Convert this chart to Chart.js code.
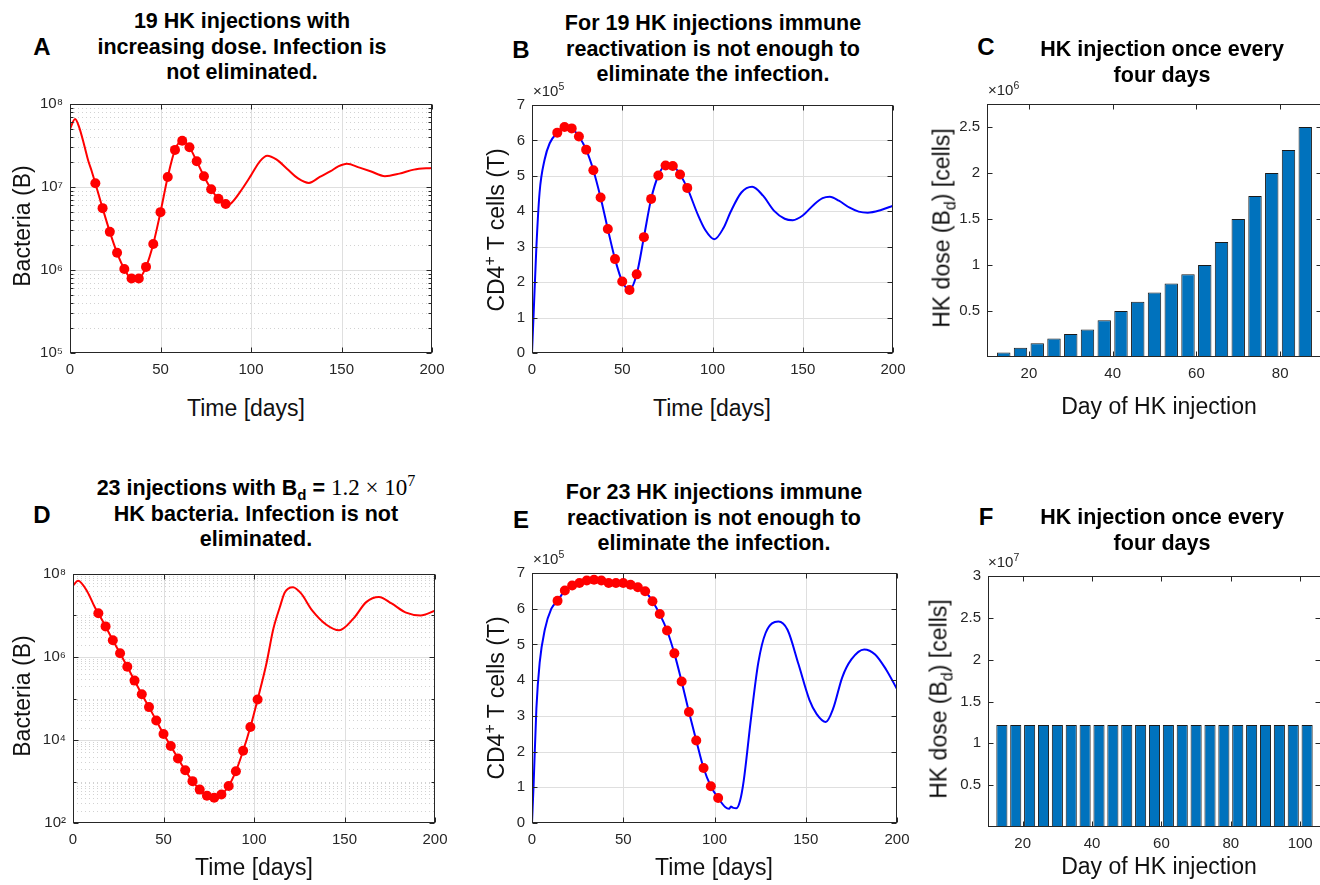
<!DOCTYPE html>
<html><head><meta charset="utf-8">
<script src="https://cdn.jsdelivr.net/npm/chart.js@4.4.0/dist/chart.umd.min.js"></script>
<style>
html,body{margin:0;padding:0;width:1320px;height:885px;overflow:hidden;background:#fff;}
body{position:relative;font-family:"Liberation Sans",Arial,Helvetica,sans-serif;}
.t{position:absolute;transform:translateX(-50%);text-align:center;font-weight:bold;font-size:21.5px;line-height:25.5px;white-space:nowrap;color:#000;}
.L{position:absolute;transform:translate(-50%,-50%);font-weight:bold;font-size:24px;color:#000;}
.xl{position:absolute;transform:translate(-50%,-50%);font-size:23px;white-space:nowrap;color:#111;}
.yl{position:absolute;transform:translate(-50%,-50%) rotate(-90deg);font-size:23px;white-space:nowrap;color:#111;}
.ex{position:absolute;font-size:15px;line-height:15px;color:#262626;white-space:nowrap;}
sup,sub{line-height:0;font-size:0.7em;}
.m{font-family:"Liberation Serif","DejaVu Serif",serif;font-weight:normal;font-size:23px;}
</style></head><body>
<script>
// ---------------- DATA ----------------
const topInjDays = [14,18,22,26,30,34,38,42,46,50,54,58,62,66,70,74,78,82,86];
const botInjDays = [14,18,22,26,30,34,38,42,46,50,54,58,62,66,70,74,78,82,86,90,94,98,102];

// Panel A : bacteria (log), curve points between injections + values at injections
const aTimeExtra = [0,2.8,5,8,10,12,88,90,95,100,105,109,114,120,126,132,138,144,148,153,160,166,174,182,190,200];
const aBactExtra = [5.0e7,6.6e7,5.3e7,3.1e7,2.1e7,1.55e7,6.2e6,6.7e6,9.4e6,1.38e7,2.05e7,2.38e7,2.15e7,1.65e7,1.27e7,1.12e7,1.32e7,1.55e7,1.76e7,1.91e7,1.71e7,1.55e7,1.35e7,1.45e7,1.62e7,1.7e7];
const aMarkers = [1.11e7,5.56e6,2.88e6,1.61e6,1.03e6,7.9e5,7.9e5,1.09e6,2.06e6,4.98e6,1.32e7,2.8e7,3.6e7,3.01e7,2.04e7,1.35e7,9.4e6,7.2e6,6.25e6];

// Panel B : CD4+ T cells (x10^5)
const bTimeExtra = [0,0.9,2.4,4.2,7,9.8,92,96,101,106,110,116,122,128,134,140,144.5,150,156,161,165,170,176,181,186,193,200];
const bCellsExtra = [0,1.1,2.96,4.53,5.46,5.92,3.89,3.47,3.21,3.52,3.98,4.53,4.69,4.44,4.02,3.79,3.75,3.88,4.18,4.37,4.41,4.3,4.1,3.99,3.96,4.03,4.16];
const bMarkers = [6.22,6.38,6.34,6.11,5.74,5.16,4.39,3.50,2.65,2.02,1.78,2.22,3.27,4.35,5.01,5.29,5.28,5.04,4.66];

// Panel C : HK dose (x10^6)
const cDose = [0.05,0.1,0.15,0.2,0.25,0.3,0.4,0.5,0.6,0.7,0.8,0.9,1.0,1.25,1.5,1.75,2.0,2.25,2.5];

// Panel D : bacteria (log)
const dTimeExtra = [0,2.8,8,12,107,110.6,114.3,117,121.5,126,132,140,147,155,162,169,176,184,192,200];
const dBactExtra = [5.3e7,6.9e7,3.7e7,1.6e7,7.4e5,4.6e6,1.6e7,3.6e7,4.8e7,3.4e7,1.35e7,6.0e6,4.4e6,8.5e6,2.1e7,2.8e7,1.95e7,1.17e7,1.0e7,1.3e7];
const dMarkers = [1.13e7,5.46e6,2.54e6,1.23e6,5.8e5,2.7e5,1.26e5,6.2e4,2.95e4,1.4e4,7.2e3,3.6e3,1.86e3,1.02e3,638,452,405,487,780,1.77e3,5.5e3,2.05e4,9.5e4];

// Panel E : CD4+ T cells (x10^5)
const eTimeExtra = [0,0.9,2.4,4.2,7,10.6,106,108,109,110,112,114,116,120,124,128,135,140,146,152,156,161,165,170,175,182,188,194,200];
const eCellsExtra = [0,1.1,3.2,4.49,5.41,6.0,0.44,0.40,0.46,0.43,0.41,0.62,1.18,2.93,4.49,5.32,5.64,5.41,4.45,3.45,3.05,2.83,3.2,4.08,4.58,4.86,4.72,4.3,3.75];
const eMarkers = [6.22,6.51,6.65,6.72,6.79,6.81,6.79,6.72,6.72,6.72,6.67,6.60,6.49,6.21,5.85,5.39,4.75,3.96,3.11,2.31,1.54,1.03,0.70];

// Panel F : HK dose (x10^7)
const fDose = [1.22,1.22,1.22,1.22,1.22,1.22,1.22,1.22,1.22,1.22,1.22,1.22,1.22,1.22,1.22,1.22,1.22,1.22,1.22,1.22,1.22,1.22,1.22];

// Ticks
const timeTicks = [0,50,100,150,200];
const timeGrid = [50,100,150];
const aLogTicks = [1e5,1e6,1e7,1e8];
const dLogTicks = [1e2,1e4,1e6,1e8];
const cellTicks = [0,1,2,3,4,5,6,7];
const cDayTicks = [20,40,60,80];
const cDoseTicks = [0.5,1,1.5,2,2.5];
const fDayTicks = [20,40,60,80,100];
const fDoseTicks = [0.5,1,1.5,2,2.5,3];

// ---------------- LAYOUT ----------------
const AREAS = {
  A:{l:70,t:100,r:432,b:353}, B:{l:532,t:101,r:893,b:353}, C:{l:987,t:100,r:1322,b:357},
  D:{l:73,t:570,r:435,b:823}, E:{l:532,t:569,r:897,b:823}, F:{l:988,t:572,r:1321,b:827}
};
const FONT = '"Liberation Sans", Arial, Helvetica, sans-serif';
Chart.defaults.font.family = FONT;
Chart.defaults.font.size = 15;
Chart.defaults.color = '#262626';

const SUP = '⁰¹²³⁴⁵⁶⁷⁸⁹';
const logLabel = v => '10' + String(Math.round(Math.log10(v))).split('').map(c => SUP[+c]).join('');
const minorLog = decades => { const o = []; decades.forEach(d => { for (let m = 2; m <= 9; m++) o.push(m * d); }); return o; };
const merge = (t1, v1, t2, v2) => t1.map((t, i) => ({x: t, y: v1[i]})).concat(t2.map((t, i) => ({x: t, y: v2[i]}))).sort((a, b) => a.x - b.x);
const pts = (t, v) => t.map((x, i) => ({x, y: v[i]}));

function boxPlugin(cfg) {
  const seg = (ctx, x1, y1, x2, y2) => { ctx.beginPath(); ctx.moveTo(x1, y1); ctx.lineTo(x2, y2); ctx.stroke(); };
  return {
    id: 'mbox',
    beforeDatasetsDraw(chart) {
      const {ctx, chartArea: a, scales: {x, y}} = chart;
      ctx.save(); ctx.lineWidth = 1;
      if (cfg.yMinor) {
        ctx.strokeStyle = '#d2d2d2'; ctx.setLineDash([1, 3]);
        cfg.yMinor.forEach(v => { const p = Math.round(y.getPixelForValue(v)) + 0.5; seg(ctx, a.left, p, a.right, p); });
      }
      ctx.setLineDash([]); ctx.strokeStyle = '#dfdfdf';
      (cfg.xGrid || []).forEach(v => { const p = Math.round(x.getPixelForValue(v)) + 0.5; seg(ctx, p, a.top, p, a.bottom); });
      (cfg.yGrid || []).forEach(v => { const p = Math.round(y.getPixelForValue(v)) + 0.5; seg(ctx, a.left, p, a.right, p); });
      ctx.restore();
    },
    afterDatasetsDraw(chart) {
      const {ctx, chartArea: a, scales: {x, y}} = chart;
      ctx.save(); ctx.lineWidth = 1; ctx.strokeStyle = '#262626';
      const L = Math.round(a.left) + 0.5, R = Math.round(a.right) - 0.5, T = Math.round(a.top) + 0.5, B = Math.round(a.bottom) - 0.5;
      ctx.strokeRect(L, T, R - L, B - T);
      (cfg.xTicks || []).forEach(v => { const p = Math.round(x.getPixelForValue(v)) + 0.5; seg(ctx, p, B, p, B - 5); seg(ctx, p, T, p, T + 5); });
      (cfg.yTicks || []).forEach(v => { const p = Math.round(y.getPixelForValue(v)) + 0.5; seg(ctx, L, p, L + 5, p); seg(ctx, R, p, R - 5, p); });
      (cfg.yMinorTicks || []).forEach(v => { const p = Math.round(y.getPixelForValue(v)) + 0.5; seg(ctx, L, p, L + 3, p); seg(ctx, R, p, R - 3, p); });
      ctx.restore();
    }
  };
}

function makeChart(area, type, datasets, xs, ys, cfg) {
  const ML = 75, MT = 12, MR = 30, MB = 40;
  const W = area.r - area.l + ML + MR, H = area.b - area.t + MT + MB;
  const c = document.createElement('canvas');
  c.width = W; c.height = H;
  c.style.cssText = `position:absolute;left:${area.l - ML}px;top:${area.t - MT}px;width:${W}px;height:${H}px;`;
  document.body.appendChild(c);
  const axis = (o, ticks, isX) => Object.assign({
    bounds: 'data', offset: false,
    grid: {display: false, drawTicks: false}, border: {display: false},
    ticks: {padding: isX ? 8 : 7, autoSkip: false, maxRotation: 0, minRotation: 0, color: '#262626', font: {size: 15}, callback: o.cb || (v => String(v))},
    afterBuildTicks: s => { s.ticks = ticks.map(v => ({value: v})); },
    afterFit: s => { if (isX) s.height = MB; else s.width = ML; }
  }, o.base);
  new Chart(c, {
    type,
    data: {datasets},
    options: {
      responsive: false, animation: false, devicePixelRatio: 1, events: [],
      layout: {padding: {left: 0, top: MT, right: MR, bottom: 0}},
      plugins: {legend: {display: false}, tooltip: {enabled: false}},
      scales: {x: axis(xs, xs.ticks, true), y: axis(ys, ys.ticks, false)}
    },
    plugins: [boxPlugin(cfg)]
  });
}

const lineDs = (data, color) => ({type: 'line', data, borderColor: color, borderWidth: 2, pointRadius: 0, cubicInterpolationMode: 'monotone', fill: false, order: 2});
const markDs = data => ({type: 'line', data, showLine: false, pointRadius: 5, pointBackgroundColor: '#ff0000', pointBorderWidth: 0, pointBorderColor: '#ff0000', order: 1});
const barDs = data => ({type: 'bar', data, backgroundColor: '#0072bd', borderColor: '#1a1a1a', borderWidth: 1, barPercentage: 0.8, categoryPercentage: 1.0});

// A
makeChart(AREAS.A, 'line',
  [lineDs(merge(aTimeExtra, aBactExtra, topInjDays, aMarkers), '#ff0000'), markDs(pts(topInjDays, aMarkers))],
  {ticks: timeTicks, base: {type: 'linear', min: 0, max: 200}},
  {ticks: aLogTicks, cb: logLabel, base: {type: 'logarithmic', min: 1e5, max: 1e8}},
  {xGrid: timeGrid, yGrid: [1e6, 1e7], yMinor: minorLog([1e5, 1e6, 1e7]), xTicks: timeTicks, yTicks: aLogTicks, yMinorTicks: minorLog([1e5, 1e6, 1e7])});
// B
makeChart(AREAS.B, 'line',
  [lineDs(merge(bTimeExtra, bCellsExtra, topInjDays, bMarkers), '#0000ff'), markDs(pts(topInjDays, bMarkers))],
  {ticks: timeTicks, base: {type: 'linear', min: 0, max: 200}},
  {ticks: cellTicks, base: {type: 'linear', min: 0, max: 7}},
  {xGrid: timeGrid, yGrid: [1, 2, 3, 4, 5, 6], xTicks: timeTicks, yTicks: cellTicks});
// C
makeChart(AREAS.C, 'bar',
  [barDs(pts(topInjDays, cDose))],
  {ticks: cDayTicks, base: {type: 'linear', min: 10, max: 90}},
  {ticks: cDoseTicks, base: {type: 'linear', min: 0, max: 2.75}},
  {xTicks: cDayTicks, yTicks: cDoseTicks});
// D
makeChart(AREAS.D, 'line',
  [lineDs(merge(dTimeExtra, dBactExtra, botInjDays, dMarkers), '#ff0000'), markDs(pts(botInjDays, dMarkers))],
  {ticks: timeTicks, base: {type: 'linear', min: 0, max: 200}},
  {ticks: dLogTicks, cb: logLabel, base: {type: 'logarithmic', min: 1e2, max: 1e8}},
  {xGrid: timeGrid, yGrid: [1e4, 1e6], yMinor: minorLog([1e2, 1e3, 1e4, 1e5, 1e6, 1e7]).concat([1e3, 1e5, 1e7]), xTicks: timeTicks, yTicks: dLogTicks, yMinorTicks: [1e3, 1e5, 1e7]});
// E
makeChart(AREAS.E, 'line',
  [lineDs(merge(eTimeExtra, eCellsExtra, botInjDays, eMarkers), '#0000ff'), markDs(pts(botInjDays, eMarkers))],
  {ticks: timeTicks, base: {type: 'linear', min: 0, max: 200}},
  {ticks: cellTicks, base: {type: 'linear', min: 0, max: 7}},
  {xGrid: timeGrid, yGrid: [1, 2, 3, 4, 5, 6], xTicks: timeTicks, yTicks: cellTicks});
// F
makeChart(AREAS.F, 'bar',
  [barDs(pts(botInjDays, fDose))],
  {ticks: fDayTicks, base: {type: 'linear', min: 10, max: 106}},
  {ticks: fDoseTicks, base: {type: 'linear', min: 0, max: 3}},
  {xTicks: fDayTicks, yTicks: fDoseTicks});

// ---------------- TEXT ----------------
const texts = [
  ['L', 42, 47, 'A'], ['L', 521, 50, 'B'], ['L', 986, 47, 'C'],
  ['L', 42, 515, 'D'], ['L', 521, 520, 'E'], ['L', 986, 517, 'F'],
  ['t', 242, 9, '19 HK injections with<br>increasing dose. Infection is<br>not eliminated.'],
  ['t', 713, 11, 'For 19 HK injections immune<br>reactivation is not enough to<br>eliminate the infection.'],
  ['t', 1162, 37, 'HK injection once every<br>four days'],
  ['t', 256, 475, '23 injections with B<sub>d</sub> = <span class="m">1.2 × 10<sup>7</sup></span><br>HK bacteria. Infection is not<br>eliminated.'],
  ['t', 714, 480, 'For 23 HK injections immune<br>reactivation is not enough to<br>eliminate the infection.'],
  ['t', 1162, 505, 'HK injection once every<br>four days'],
  ['xl', 246, 408, 'Time [days]'], ['xl', 712, 408, 'Time [days]'], ['xl', 1159, 406, 'Day of HK injection'],
  ['xl', 254, 867, 'Time [days]'], ['xl', 714, 867, 'Time [days]'], ['xl', 1159, 866, 'Day of HK injection'],
  ['yl', 22, 226, 'Bacteria (B)'], ['yl', 496, 230, 'CD4<sup>+</sup> T cells (T)'], ['yl', 942, 228, 'HK dose (B<sub>d</sub>) [cells]'],
  ['yl', 22, 696, 'Bacteria (B)'], ['yl', 496, 698, 'CD4<sup>+</sup> T cells (T)'], ['yl', 939, 699, 'HK dose (B<sub>d</sub>) [cells]'],
  ['ex', 533, 83, '×10<sup>5</sup>'], ['ex', 988, 82, '×10<sup>6</sup>'],
  ['ex', 533, 551, '×10<sup>5</sup>'], ['ex', 988, 554, '×10<sup>7</sup>']
];
texts.forEach(([cls, x, y, html]) => {
  const d = document.createElement('div');
  d.className = cls; d.style.left = x + 'px'; d.style.top = y + 'px'; d.innerHTML = html;
  document.body.appendChild(d);
});
</script>
</body></html>
